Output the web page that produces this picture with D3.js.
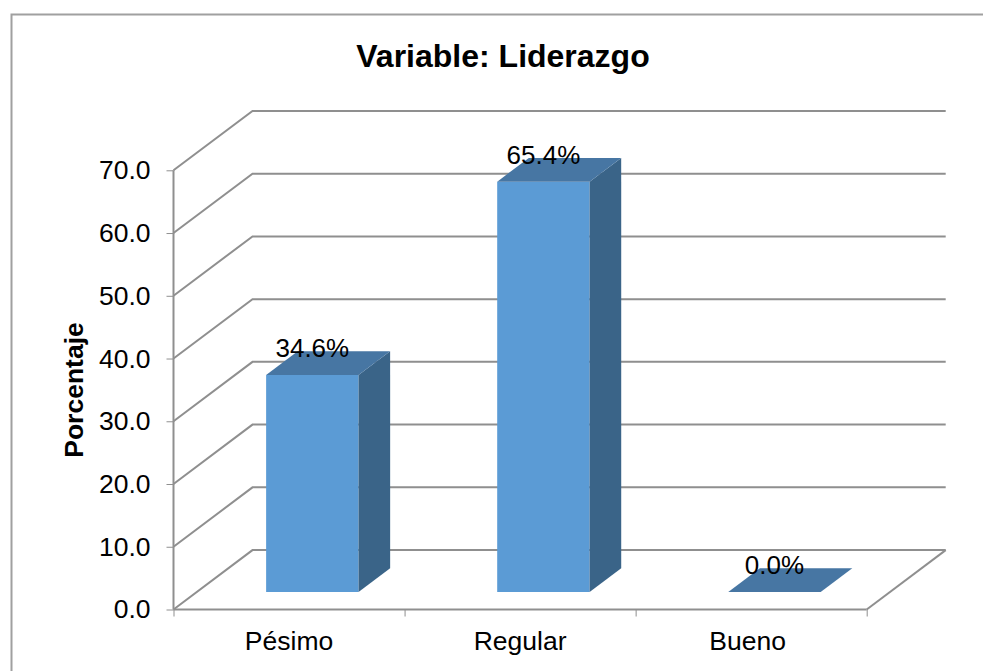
<!DOCTYPE html>
<html>
<head>
<meta charset="utf-8">
<title>Variable: Liderazgo</title>
<script src="https://cdn.jsdelivr.net/npm/d3@7/dist/d3.min.js"></script>
<style>
    html, body { margin: 0; padding: 0; background: #fff; }
    svg { display: block; }
    text { font-family: "Liberation Sans", Arial, sans-serif; fill: #000; }
</style>
</head>
<body>
<svg id="chart" width="983" height="671"></svg>
<script>
var categories = ["Pésimo", "Regular", "Bueno"];
var values = [34.6, 65.4, 0.0];
var valueLabels = ["34.6%", "65.4%", "0.0%"];
var yTicks = [0, 10, 20, 30, 40, 50, 60, 70];

var svg = d3.select("#chart");
var gridColor = "#8f8f8f";

// chart frame, only left and top show, it runs off the picture
svg.append("path")
  .attr("d", "M11.5,671V14.5H983")
  .attr("fill", "none").attr("stroke", "#a0a0a0").attr("stroke-width", 2);

svg.append("text").attr("x", 503).attr("y", 67)
  .attr("text-anchor", "middle").attr("font-size", 32).attr("font-weight", "bold")
  .text("Variable: Liderazgo");

var x = d3.scaleBand().domain(categories).range([173.5, 866.7]).paddingInner(0.6).paddingOuter(0.3);
var y = d3.scaleLinear().domain([0, 70]).range([609.5, 170.3]);

// fake 3d: depth 0 is the front plane, depth 1 the back wall
var depthX = 79, depthY = -59.4;
function px(xv, d) { return xv + d * depthX; }
function py(v, d) { return y(v) + d * depthY; }

var x0 = x.range()[0], x1 = x.range()[1];

// gridlines: side wall then back wall
var grid = svg.append("g").attr("fill", "none").attr("stroke", gridColor).attr("stroke-width", 2);
yTicks.forEach(function (t) {
  grid.append("path").attr("d", d3.line()([[x0, y(t)], [px(x0, 1), py(t, 1)], [px(x1, 1), py(t, 1)]]));
});
// floor right edge
grid.append("path").attr("d", d3.line()([[x1, y(0)], [px(x1, 1), py(0, 1)]]));

// axes on the front plane
var yAxis = svg.append("g").attr("transform", "translate(" + x0 + ",0)")
  .call(d3.axisLeft(y).tickValues(yTicks).tickSize(7).tickPadding(16).tickFormat(d3.format(".1f")));
var xAxisScale = d3.scaleLinear().domain([0, 3]).range([x0, x1]);
var xAxis = svg.append("g").attr("transform", "translate(0," + y(0) + ")")
  .call(d3.axisBottom(xAxisScale).tickValues(d3.range(4)).tickSize(7).tickFormat(""));
svg.selectAll(".domain").remove();
svg.append("line").attr("x1", x0).attr("x2", x0).attr("y1", y(70)).attr("y2", y(0))
  .attr("stroke", gridColor).attr("stroke-width", 2);
svg.append("line").attr("x1", x0).attr("x2", x1).attr("y1", y(0)).attr("y2", y(0))
  .attr("stroke", gridColor).attr("stroke-width", 2);
svg.selectAll(".tick line").attr("stroke", gridColor).attr("stroke-width", 1);
yAxis.selectAll("text").attr("font-size", 26.5).attr("font-family", null);

svg.selectAll(".catLabel").data(categories).enter().append("text")
  .attr("class", "catLabel")
  .attr("x", function (d, i) { return x(d) + x.bandwidth() / 2 - (i == 2 ? 3.5 : 0); })
  .attr("y", 650).attr("text-anchor", "middle").attr("font-size", 26.5)
  .text(function (d) { return d; });

svg.append("text").attr("transform", "translate(83,390) rotate(-90)")
  .attr("text-anchor", "middle").attr("font-size", 26.5).attr("font-weight", "bold")
  .text("Porcentaje");

// bars: depth range inside the floor
var dFront = 0.295, dBack = 0.695;
function poly(pts) { return d3.line()(pts) + "Z"; }
var bars = svg.selectAll(".bar").data(categories).enter().append("g").attr("class", "bar");
bars.each(function (c, i) {
  var g = d3.select(this), l = x(c), r = l + x.bandwidth(), v = values[i];
  if (v > 0) {
    g.append("path").attr("fill", "#5b9bd5")
      .attr("d", poly([[px(l, dFront), py(0, dFront)], [px(r, dFront), py(0, dFront)], [px(r, dFront), py(v, dFront)], [px(l, dFront), py(v, dFront)]]));
    g.append("path").attr("fill", "#3a6488")
      .attr("d", poly([[px(r, dFront), py(0, dFront)], [px(r, dBack), py(0, dBack)], [px(r, dBack), py(v, dBack)], [px(r, dFront), py(v, dFront)]]));
  }
  g.append("path").attr("fill", "#4776a3")
    .attr("d", poly([[px(l, dFront), py(v, dFront)], [px(r, dFront), py(v, dFront)], [px(r, dBack), py(v, dBack)], [px(l, dBack), py(v, dBack)]]));
});

svg.selectAll(".valueLabel").data(categories).enter().append("text")
  .attr("class", "valueLabel")
  .attr("x", function (d) { return px(x(d) + x.bandwidth() / 2, dFront); })
  .attr("y", function (d, i) { return py(values[i], dFront) - 17.5; })
  .attr("text-anchor", "middle").attr("font-size", 26)
  .text(function (d, i) { return valueLabels[i]; });
</script>
</body>
</html>
